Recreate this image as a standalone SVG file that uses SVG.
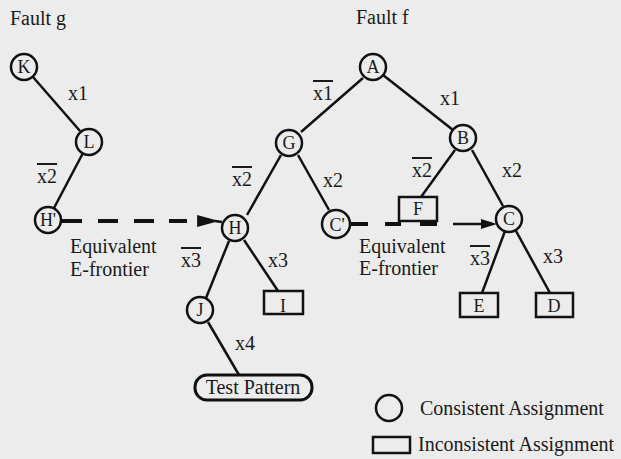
<svg xmlns="http://www.w3.org/2000/svg" width="621" height="459" viewBox="0 0 621 459">
<style>
text{font-family:'Liberation Serif','Times New Roman',Times,serif;fill:#1a1a1a;font-size:20px}
text.lbl{font-size:18px;text-anchor:middle}
.bar{text-decoration:overline}
.n circle,.n rect{fill:none;stroke:#111;stroke-width:2.5}
.e{stroke:#111;stroke-width:2.5;fill:none}
.d{stroke:#111;stroke-width:4;fill:none}
</style>
<defs>
<marker id="ah1" markerUnits="userSpaceOnUse" markerWidth="22" markerHeight="12" refX="0" refY="6" orient="auto">
<path d="M0,0 L22,6 L0,12 Z" fill="#111"/>
</marker>
<marker id="ah2" markerUnits="userSpaceOnUse" markerWidth="16" markerHeight="10" refX="0" refY="5" orient="auto">
<path d="M0,0 L16,5 L0,10 Z" fill="#111"/>
</marker>
</defs>
<rect x="0" y="0" width="621" height="459" fill="#ececec"/>

<text x="10" y="25">Fault g</text>
<text x="356" y="24">Fault f</text>

<g id="connectors">
<line class="e" x1="33" y1="77" x2="80" y2="131"/>
<line class="e" x1="83" y1="153" x2="54" y2="208"/>
<line class="e" x1="363" y1="78" x2="301" y2="132"/>
<line class="e" x1="383" y1="75" x2="453" y2="130"/>
<line class="e" x1="281" y1="155" x2="247" y2="215"/>
<line class="e" x1="298" y1="155" x2="329" y2="210"/>
<line class="e" x1="229" y1="241" x2="206" y2="298"/>
<line class="e" x1="244" y1="240" x2="278" y2="291"/>
<line class="e" x1="208" y1="322" x2="239" y2="375"/>
<line class="e" x1="455" y1="150" x2="421" y2="197"/>
<line class="e" x1="472" y1="150" x2="503" y2="206"/>
<line class="e" x1="505" y1="231" x2="482" y2="293"/>
<line class="e" x1="516" y1="231" x2="550" y2="293"/>
<path class="d" d="M62,221 H82 M98,221 H118 M134,221 H154 M169,221 H187"/>
<line x1="197" y1="221" x2="197.1" y2="221" stroke="#111" stroke-width="1" marker-end="url(#ah1)"/>
<line class="e" x1="215" y1="221" x2="222" y2="222"/>
<path class="d" d="M350,224 H368 M385,224 H401 M420,224 H437"/>
<line class="e" x1="453" y1="224" x2="481" y2="224" stroke-width="3" marker-end="url(#ah2)"/>
</g>

<g id="annotations">
<text x="68" y="100">x1</text>
<text x="37" y="183" class="bar">x2</text>
<text x="313" y="100" class="bar">x1</text>
<text x="440" y="105">x1</text>
<text x="232" y="186" class="bar">x2</text>
<text x="323" y="187">x2</text>
<text x="412" y="177" class="bar">x2</text>
<text x="502" y="177">x2</text>
<text x="181" y="267" class="bar">x3</text>
<text x="268" y="267">x3</text>
<text x="470" y="265" class="bar">x3</text>
<text x="543" y="263">x3</text>
<text x="235" y="350">x4</text>
<text x="70" y="253">Equivalent</text>
<text x="70" y="276">E-frontier</text>
<text x="359" y="253">Equivalent</text>
<text x="359" y="275">E-frontier</text>
</g>

<g id="K" class="n"><circle cx="24" cy="67" r="13"/><text class="lbl" x="24" y="73">K</text></g>
<g id="L" class="n"><circle cx="89" cy="142" r="13"/><text class="lbl" x="89" y="148">L</text></g>
<g id="H1" class="n"><circle cx="48" cy="220" r="13"/><text class="lbl" x="48" y="226">H'</text></g>
<g id="A" class="n"><circle cx="373" cy="67" r="13"/><text class="lbl" x="373" y="73">A</text></g>
<g id="G" class="n"><circle cx="289" cy="143" r="13"/><text class="lbl" x="289" y="149">G</text></g>
<g id="H" class="n"><circle cx="235" cy="228" r="13"/><text class="lbl" x="235" y="234">H</text></g>
<g id="C1" class="n"><circle cx="336" cy="224" r="14"/><text class="lbl" x="337" y="231">C'</text></g>
<g id="B" class="n"><circle cx="463" cy="138" r="13"/><text class="lbl" x="463" y="144">B</text></g>
<g id="C" class="n"><circle cx="509" cy="219" r="13"/><text class="lbl" x="509" y="225">C</text></g>
<g id="J" class="n"><circle cx="200" cy="310" r="13"/><text class="lbl" x="200" y="316">J</text></g>
<g id="F" class="n"><rect x="399" y="197" width="38" height="24"/><text class="lbl" x="418" y="215">F</text></g>
<g id="I" class="n"><rect x="264" y="291" width="39" height="23"/><text class="lbl" x="283" y="312">I</text></g>
<g id="E" class="n"><rect x="460" y="293" width="38" height="24"/><text class="lbl" x="479" y="312">E</text></g>
<g id="D" class="n"><rect x="536" y="293" width="37" height="24"/><text class="lbl" x="554" y="312">D</text></g>
<g id="TestPattern" class="n"><rect x="195" y="375" width="117" height="25" rx="12" ry="12" style="stroke-width:3"/><text x="253" y="394" text-anchor="middle">Test Pattern</text></g>

<g id="legend" class="n">
<circle cx="389" cy="408" r="13"/>
<text x="420" y="415">Consistent Assignment</text>
<rect x="373" y="437" width="37" height="16"/>
<text x="418" y="451">Inconsistent Assignment</text>
</g>
</svg>
